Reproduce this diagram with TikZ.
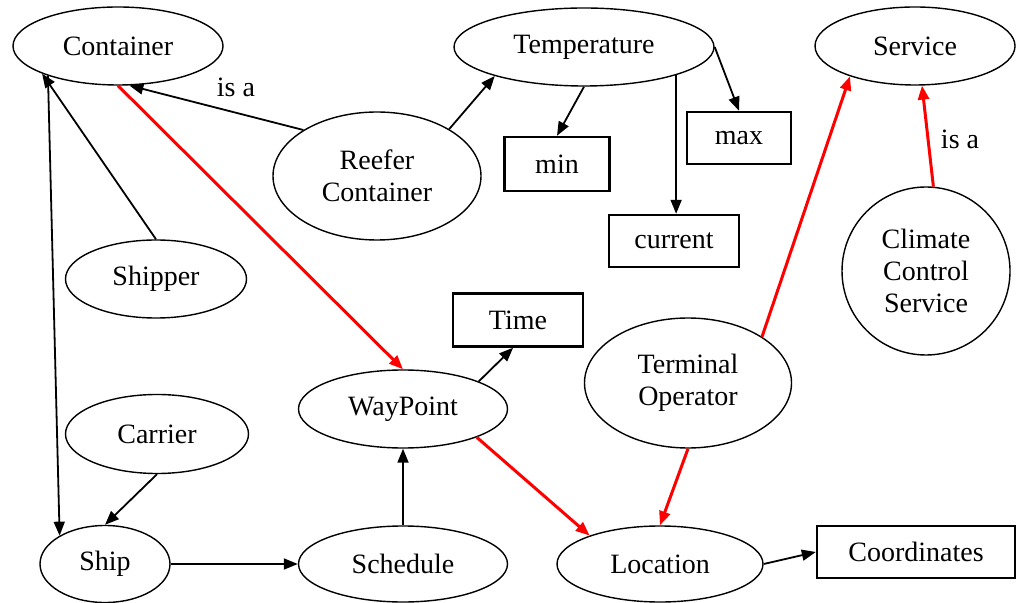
\documentclass[tikz,border=0pt]{standalone}
\usepackage{fontspec}
\setmainfont{Liberation Serif}
\usetikzlibrary{shapes.geometric,arrows.meta}

\begin{document}
\begin{tikzpicture}[x=0.5pt, y=-0.5pt,
  font=\fontsize{14pt}{16pt}\selectfont,
  concept/.style={ellipse, draw, line width=0.7pt, inner sep=0pt, align=center},
  slot/.style={rectangle, draw, line width=1.2pt, inner sep=0pt},
  rel/.style={-{Triangle[length=7pt, width=5.5pt]}, line width=0.9pt},
  redrel/.style={rel, red, line width=1.5pt}]
  \useasboundingbox (0,0) rectangle (1020,603);

  \node[concept, minimum width=105pt, minimum height=39pt] (container) at (118,46) {Container};
  \node[concept, minimum width=130pt, minimum height=39pt] (temp) at (584,47) {Temperature};
  \node[concept, minimum width=100pt, minimum height=39pt] (service) at (915,46) {Service};
  \node[concept, minimum width=104pt, minimum height=64pt] (reefer) at (377,176) {Reefer\\Container};
  \node[concept, minimum width=90.5pt, minimum height=39pt] (shipper) at (156,279) {Shipper};
  \node[circle, draw, line width=0.7pt, inner sep=0pt, align=center, minimum size=84pt] (climate) at (926,271) {Climate\\Control\\Service};
  \node[concept, minimum width=103.5pt, minimum height=65pt] (terminal) at (688,383) {Terminal\\Operator};
  \node[concept, minimum width=104.5pt, minimum height=39pt] (waypoint) at (403,409) {WayPoint};
  \node[concept, minimum width=91.5pt, minimum height=39.5pt] (carrier) at (157,434) {Carrier};
  \node[concept, minimum width=65pt, minimum height=38.5pt] (ship) at (105,564) {Ship};
  \node[concept, minimum width=104.5pt, minimum height=38pt] (schedule) at (403,564) {Schedule};
  \node[concept, minimum width=103pt, minimum height=38pt] (location) at (660,564) {Location};

  \node[slot, minimum width=52.5pt, minimum height=27pt] (min) at (557,164) {min};
  \node[slot, minimum width=52pt, minimum height=26pt] (max) at (739,138) {max};
  \node[slot, minimum width=65pt, minimum height=26pt] (current) at (674,241) {current};
  \node[slot, minimum width=65pt, minimum height=26.5pt] (time) at (518,320) {Time};
  \node[slot, minimum width=99pt, minimum height=26pt] (coords) at (916,552) {Coordinates};

  \node (isa1) at (236,87) {is a};
  \node (isa2) at (960,139) {is a};

  \draw[rel] (reefer.148) -- (container.286);
  \draw[rel] (reefer.33) -- (temp.198);
  \draw[rel] (temp.south) -- (min.north);
  \draw[rel] (temp.343) -- (temp.343 |- current.north);
  \draw[rel] (temp.east) -- (max.north);
  \draw[rel] (shipper.north) -- (container.200);
  \draw[rel] (container.203) -- (ship.148);
  \draw[rel] (carrier.south) -- (ship.north);
  \draw[rel] (ship.east) -- (schedule.west);
  \draw[rel] (schedule.north) -- (waypoint.south);
  \draw[rel] (waypoint.20) -- (time.-100);
  \draw[rel] (location.east) -- (coords.west);
  \draw[redrel] (container.south) -- (waypoint.north);
  \draw[redrel] (waypoint.339) -- (location.158);
  \draw[redrel] (terminal.south) -- (location.north);
  \draw[redrel] (terminal.32) -- (service.205);
  \draw[redrel] (climate.85) -- (service.280);
\end{tikzpicture}
\end{document}
